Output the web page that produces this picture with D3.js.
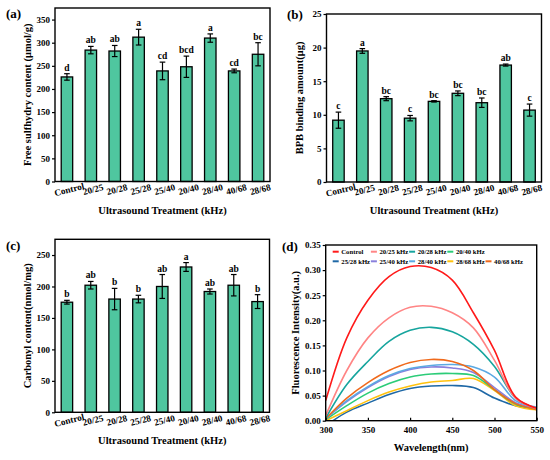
<!DOCTYPE html>
<html>
<head>
<meta charset="utf-8">
<script src="https://cdn.jsdelivr.net/npm/d3@7"></script>
<style>
  body { margin: 0; background: #fff; }
  svg text { font-family: "Liberation Serif", "Times New Roman", serif; font-weight: bold; }
</style>
</head>
<body>
<div id="chart"></div>
<script>
// categories shared by the three bar panels
const treatments = ["Control", "20/25", "20/28", "25/28", "25/40", "20/40", "28/40", "40/68", "28/68"];

// (a) free sulfhydryl
const sulfhydryl = [226, 284, 282, 312, 239, 248, 310, 239, 275];
const sulfhydrylErr = [7, 8, 12, 17, 19, 23, 9, 4, 25];
const sulfhydrylLetters = ["d", "ab", "ab", "a", "cd", "bcd", "a", "cd", "bc"];

// (b) BPB binding
const bpb = [9.2, 19.5, 12.4, 9.5, 12.0, 13.2, 11.8, 17.4, 10.7];
const bpbErr = [1.2, 0.35, 0.3, 0.4, 0.1, 0.35, 0.7, 0.15, 0.9];
const bpbLetters = ["c", "a", "bc", "c", "bc", "bc", "bc", "ab", "c"];

// (c) carbonyl
const carbonyl = [175, 202, 180, 180, 200, 231, 192, 202, 176];
const carbonylErr = [3, 6, 17, 6, 19, 7, 4, 17, 11];
const carbonylLetters = ["b", "ab", "b", "b", "ab", "a", "ab", "ab", "b"];

// (d) fluorescence spectra
const wavelengths = [300, 325, 350, 375, 400, 425, 450, 475, 500, 525, 550];
const spectraNames = ["Control", "20/25 kHz", "20/28 kHz", "20/40 kHz",
                      "25/28 kHz", "25/40 kHz", "28/40 kHz", "28/68 kHz", "40/68 kHz"];
const fControl = [0.040, 0.165, 0.240, 0.287, 0.307, 0.305, 0.280, 0.215, 0.140, 0.047, 0.025];
const f2025 = [0.010, 0.100, 0.165, 0.205, 0.226, 0.228, 0.215, 0.185, 0.120, 0.045, 0.024];
const f2028 = [0.005, 0.072, 0.118, 0.158, 0.180, 0.186, 0.177, 0.152, 0.108, 0.045, 0.024];
const f2040 = [0.002, 0.030, 0.055, 0.074, 0.087, 0.093, 0.094, 0.090, 0.062, 0.033, 0.024];
const f2528 = [-0.010, 0.017, 0.035, 0.052, 0.064, 0.069, 0.070, 0.066, 0.045, 0.030, 0.026];
const f2540 = [0.004, 0.038, 0.066, 0.088, 0.102, 0.107, 0.105, 0.096, 0.066, 0.036, 0.025];
const f2840 = [0.004, 0.040, 0.068, 0.090, 0.104, 0.110, 0.112, 0.107, 0.087, 0.040, 0.027];
const f2868 = [0.000, 0.020, 0.040, 0.057, 0.069, 0.077, 0.080, 0.084, 0.060, 0.030, 0.022];
const f4068 = [0.004, 0.045, 0.076, 0.100, 0.116, 0.122, 0.118, 0.100, 0.062, 0.034, 0.022];
const spectraColors = ["#ff1a1a", "#ff8585", "#17a59e", "#2ccc78",
                       "#1f68a6", "#8a80dc", "#5ba9e2", "#ffc20e", "#f06a1c"];

const W = 550, H = 460;
const svg = d3.select("#chart").append("svg")
    .attr("width", W)
    .attr("height", H);

const barFill = "#4fc69f";

function frame(g, x0, x1, y0, y1) {
    g.append("rect")
        .attr("x", x0).attr("y", y0)
        .attr("width", x1 - x0).attr("height", y1 - y0)
        .attr("fill", "none")
        .attr("stroke", "#000")
        .attr("stroke-width", 1.4);
}

// draws one bar + error bar panel
function barPanel(o) {
    const g = svg.append("g");
    const x = d3.scaleBand().domain(treatments)
        .range([o.left, o.right]).paddingInner(0.52).paddingOuter(0.26);
    const y = d3.scaleLinear().domain([0, o.ymax]).range([o.bottom, o.top]);

    const rows = treatments.map((t, i) => ({ t: t, v: o.values[i], e: o.errors[i], l: o.letters[i] }));

    g.selectAll("rect.bar").data(rows).join("rect")
        .attr("class", "bar")
        .attr("x", d => x(d.t))
        .attr("y", d => y(d.v))
        .attr("width", x.bandwidth())
        .attr("height", d => y(0) - y(d.v))
        .attr("fill", barFill)
        .attr("stroke", "#000")
        .attr("stroke-width", 1.3);

    const cx = d => x(d.t) + x.bandwidth() / 2;
    const err = g.selectAll("g.err").data(rows).join("g").attr("class", "err");
    err.append("line")
        .attr("x1", cx).attr("x2", cx)
        .attr("y1", d => y(d.v - d.e)).attr("y2", d => y(d.v + d.e));
    err.append("line")
        .attr("x1", d => cx(d) - 2.8).attr("x2", d => cx(d) + 2.8)
        .attr("y1", d => y(d.v + d.e)).attr("y2", d => y(d.v + d.e));
    err.append("line")
        .attr("x1", d => cx(d) - 2.8).attr("x2", d => cx(d) + 2.8)
        .attr("y1", d => y(d.v - d.e)).attr("y2", d => y(d.v - d.e));
    err.selectAll("line").attr("stroke", "#000").attr("stroke-width", 1.2);

    g.selectAll("text.letter").data(rows).join("text")
        .attr("class", "letter")
        .attr("x", cx)
        .attr("y", d => y(d.v + d.e) - 3)
        .attr("text-anchor", "middle")
        .attr("font-size", 9.5)
        .text(d => d.l);

    // y axis
    const ya = g.append("g")
        .attr("transform", `translate(${o.left},0)`)
        .call(d3.axisLeft(y).tickValues(o.ticks).tickSize(3).tickPadding(2).tickFormat(d3.format("d")));
    ya.select(".domain").remove();
    ya.selectAll("line").attr("stroke-width", 1.2);
    ya.selectAll("text").attr("font-size", 9).attr("font-family", null).attr("fill", "#000");

    // x labels, tilted
    g.selectAll("text.xl").data(treatments).join("text")
        .attr("class", "xl")
        .attr("transform", t => `translate(${x(t) + x.bandwidth() / 2 + 3},${o.bottom + 11}) rotate(-14)`)
        .attr("text-anchor", "middle")
        .attr("font-size", 9.2)
        .text(t => t);

    frame(g, o.left, o.right, o.top, o.bottom);

    g.append("text")
        .attr("transform", `translate(${o.left - 24},${(o.top + o.bottom) / 2}) rotate(-90)`)
        .attr("text-anchor", "middle")
        .attr("font-size", 10.5)
        .text(o.ytitle);
    g.append("text")
        .attr("x", (o.left + o.right) / 2)
        .attr("y", o.bottom + 32)
        .attr("text-anchor", "middle")
        .attr("font-size", 10.5)
        .text("Ultrasound Treatment (kHz)");
    g.append("text")
        .attr("x", o.lx).attr("y", o.ly)
        .attr("font-size", 13)
        .text(o.label);
}

barPanel({
    left: 55, right: 270, top: 8, bottom: 181.5, ymax: 375,
    ticks: d3.range(0, 351, 50),
    values: sulfhydryl, errors: sulfhydrylErr, letters: sulfhydrylLetters,
    ytitle: "Free sulfhydry content (\u03bcmol/g)", label: "(a)", lx: 6, ly: 18
});
barPanel({
    left: 326.5, right: 541.5, top: 14, bottom: 182, ymax: 25,
    ticks: d3.range(0, 26, 5),
    values: bpb, errors: bpbErr, letters: bpbLetters,
    ytitle: "BPB binding amount(\u03bcg)", label: "(b)", lx: 287, ly: 19
});
barPanel({
    left: 55, right: 269.5, top: 239.3, bottom: 412.3, ymax: 275,
    ticks: d3.range(0, 251, 50),
    values: carbonyl, errors: carbonylErr, letters: carbonylLetters,
    ytitle: "Carbonyl content(nmol/mg)", label: "(c)", lx: 6, ly: 250
});

// (d) spectra panel
(function () {
    const left = 325.7, right = 536.7, top = 245, bottom = 420.7;
    const g = svg.append("g");
    const x = d3.scaleLinear().domain([300, 550]).range([left, right]);
    const y = d3.scaleLinear().domain([0, 0.35]).range([bottom, top]);
    const seriesValues = [fControl, f2025, f2028, f2040, f2528, f2540, f2840, f2868, f4068];

    svg.append("clipPath").attr("id", "clipD")
        .append("rect").attr("x", left).attr("y", top)
        .attr("width", right - left).attr("height", bottom - top);

    const line = d3.line()
        .x((d, i) => x(wavelengths[i]))
        .y(d => y(d))
        .curve(d3.curveCatmullRom.alpha(0.5));

    // draw order: lower curves first so upper ones sit on top as in the figure
    const drawOrder = [4, 7, 3, 5, 6, 8, 2, 1, 0];
    g.append("g").attr("clip-path", "url(#clipD)")
        .selectAll("path").data(drawOrder).join("path")
        .attr("d", k => line(seriesValues[k]))
        .attr("fill", "none")
        .attr("stroke", k => spectraColors[k])
        .attr("stroke-width", 1.6);

    const xa = g.append("g")
        .attr("transform", `translate(0,${bottom})`)
        .call(d3.axisBottom(x).tickValues(d3.range(300, 551, 50)).tickSize(-3).tickPadding(6));
    xa.select(".domain").remove();
    xa.selectAll("line").attr("stroke-width", 1.2);
    xa.selectAll("text").attr("font-size", 9).attr("font-family", null).attr("fill", "#000");

    const ya = g.append("g")
        .attr("transform", `translate(${left},0)`)
        .call(d3.axisLeft(y).tickValues(d3.range(0, 0.351, 0.05)).tickSize(3).tickPadding(2).tickFormat(d3.format(".2f")));
    ya.select(".domain").remove();
    ya.selectAll("line").attr("stroke-width", 1.2);
    ya.selectAll("text").attr("font-size", 9).attr("font-family", null).attr("fill", "#000");

    frame(g, left, right, top, bottom);

    // legend: five columns, two rows
    const legendCols = 5, colW = 38.2, rowH = 9.6;
    const leg = g.append("g").attr("transform", `translate(332.7,251.7)`);
    const item = leg.selectAll("g").data(spectraNames).join("g")
        .attr("transform", (d, i) => {
            const r = i < 4 ? 0 : 1;
            const c = i < 4 ? i : i - 4;
            return `translate(${c * colW},${r * rowH})`;
        });
    item.append("line")
        .attr("x1", 0).attr("x2", 6).attr("y1", 0).attr("y2", 0)
        .attr("stroke", (d, i) => spectraColors[i])
        .attr("stroke-width", 2);
    item.append("text")
        .attr("x", 8.6).attr("y", 2.4)
        .attr("font-size", 6.7)
        .text(d => d);

    g.append("text")
        .attr("transform", `translate(${left - 27},${(top + bottom) / 2}) rotate(-90)`)
        .attr("text-anchor", "middle")
        .attr("font-size", 10.5)
        .text("Fluorescence Intensity(a.u.)");
    g.append("text")
        .attr("x", (left + right) / 2)
        .attr("y", bottom + 30)
        .attr("text-anchor", "middle")
        .attr("font-size", 10.5)
        .text("Wavelength(nm)");
    g.append("text")
        .attr("x", 282).attr("y", 251)
        .attr("font-size", 13)
        .text("(d)");
})();
</script>
</body>
</html>
